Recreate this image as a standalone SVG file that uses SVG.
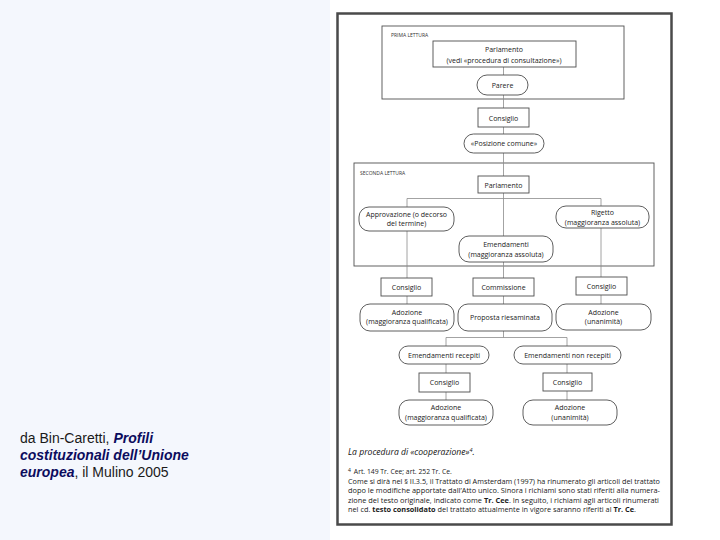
<svg xmlns="http://www.w3.org/2000/svg" width="720" height="540" viewBox="0 0 720 540">
<style>
.box{fill:#fff;stroke:#4d4d4d;stroke-width:0.9}
.frame{fill:none;stroke:#505050;stroke-width:0.9}
.con{stroke:#8c8c8c;stroke-width:0.8;fill:none}
.t{font-family:"Open Sans","DejaVu Sans",sans-serif;font-size:7px;fill:#222;text-anchor:middle}
.lab{font-family:"Open Sans","DejaVu Sans",sans-serif;font-size:5px;fill:#333}
.fn{font-family:"Open Sans","DejaVu Sans",sans-serif;font-size:6.8px;fill:#1a1a1a}
.src{font-family:"Liberation Sans",Arial,sans-serif;font-size:14px;fill:#1a1a1a}
.bi{font-weight:bold;font-style:italic;fill:#0c0c5e}
</style>
<rect x="0" y="0" width="720" height="540" fill="#fff"/>
<rect x="0" y="0" width="330" height="540" fill="#f4f7fd"/>

<g id="source">
<text class="src" x="20" y="443">da Bin-Caretti, <tspan class="bi">Profili</tspan></text>
<text class="src" x="20" y="460"><tspan class="bi">costituzionali dell’Unione</tspan></text>
<text class="src" x="20" y="477"><tspan class="bi">europea</tspan>, il Mulino 2005</text>
</g>

<rect x="337.5" y="13.5" width="334" height="511" fill="none" stroke="#4a4a4a" stroke-width="2.5"/>

<g id="groups">
<rect class="frame" x="382" y="26" width="242" height="73"/>
<text class="lab" x="391" y="37">PRIMA LETTURA</text>
<rect class="frame" x="354" y="163" width="300" height="103"/>
<text class="lab" x="360" y="175">SECONDA LETTURA</text>
</g>

<g id="connectors">
<line class="con" x1="503.5" y1="67" x2="503.5" y2="278"/>
<line class="con" x1="503.5" y1="296" x2="503.5" y2="337.5"/>
<line class="con" x1="407" y1="198.5" x2="601" y2="198.5"/>
<line class="con" x1="407" y1="198.5" x2="407" y2="278"/>
<line class="con" x1="601" y1="198.5" x2="601" y2="277"/>
<line class="con" x1="407" y1="296" x2="407" y2="304"/>
<line class="con" x1="601" y1="295" x2="601" y2="304"/>
<line class="con" x1="446" y1="337.5" x2="567" y2="337.5"/>
<line class="con" x1="446" y1="337.5" x2="446" y2="400"/>
<line class="con" x1="567" y1="337.5" x2="567" y2="400"/>
</g>

<g id="parlamento1"><rect class="box" x="433" y="41" width="143" height="26"/>
<text class="t" x="504" y="52">Parlamento</text><text class="t" x="504" y="62.5">(vedi «procedura di consultazione»)</text></g>
<g id="parere"><rect class="box" x="477" y="75" width="51" height="20" rx="10"/><text class="t" x="502.5" y="88">Parere</text></g>
<g id="consiglio1"><rect class="box" x="478" y="108" width="51" height="19"/><text class="t" x="503.5" y="120.5">Consiglio</text></g>
<g id="posizione"><rect class="box" x="464" y="134" width="80" height="19" rx="9.5"/><text class="t" x="504" y="146">«Posizione comune»</text></g>
<g id="parlamento2"><rect class="box" x="478" y="176" width="51" height="17"/><text class="t" x="503.5" y="187.5">Parlamento</text></g>
<g id="approvazione"><rect class="box" x="359" y="207" width="95" height="24" rx="10"/>
<text class="t" x="406.5" y="216.5">Approvazione (o decorso</text><text class="t" x="406.5" y="226">del termine)</text></g>
<g id="rigetto"><rect class="box" x="556" y="206" width="93" height="22" rx="10"/>
<text class="t" x="602.5" y="215">Rigetto</text><text class="t" x="602.5" y="224.5">(maggioranza assoluta)</text></g>
<g id="emendamenti"><rect class="box" x="459" y="236" width="94" height="26" rx="10"/>
<text class="t" x="506" y="246.5">Emendamenti</text><text class="t" x="506" y="256.5">(maggioranza assoluta)</text></g>
<g id="consiglio-l"><rect class="box" x="381" y="278" width="51" height="18"/><text class="t" x="406.5" y="290">Consiglio</text></g>
<g id="commissione"><rect class="box" x="473" y="278" width="61" height="18"/><text class="t" x="503.5" y="290">Commissione</text></g>
<g id="consiglio-r"><rect class="box" x="576" y="277" width="51" height="18"/><text class="t" x="601.5" y="289">Consiglio</text></g>
<g id="adozione-l"><rect class="box" x="360" y="304" width="94" height="27" rx="10"/>
<text class="t" x="407" y="314.5">Adozione</text><text class="t" x="407" y="324">(maggioranza qualificata)</text></g>
<g id="proposta"><rect class="box" x="458" y="304" width="94" height="27" rx="10"/><text class="t" x="505" y="320">Proposta riesaminata</text></g>
<g id="adozione-r"><rect class="box" x="556" y="304" width="95" height="26" rx="10"/>
<text class="t" x="603.5" y="314.5">Adozione</text><text class="t" x="603.5" y="324">(unanimità)</text></g>
<g id="em-recepiti"><rect class="box" x="399" y="346" width="90" height="18" rx="9"/><text class="t" x="444" y="358">Emendamenti recepiti</text></g>
<g id="em-non-recepiti"><rect class="box" x="514" y="346" width="107" height="18" rx="9"/><text class="t" x="567.5" y="358">Emendamenti non recepiti</text></g>
<g id="consiglio-bl"><rect class="box" x="419" y="373" width="51" height="19"/><text class="t" x="444.5" y="385">Consiglio</text></g>
<g id="consiglio-br"><rect class="box" x="543" y="373" width="49" height="18"/><text class="t" x="567.5" y="385">Consiglio</text></g>
<g id="adozione-bl"><rect class="box" x="399" y="400" width="94" height="25" rx="10"/>
<text class="t" x="446" y="410">Adozione</text><text class="t" x="446" y="419.5">(maggioranza qualificata)</text></g>
<g id="adozione-br"><rect class="box" x="523" y="400" width="94" height="25" rx="10"/>
<text class="t" x="570" y="410">Adozione</text><text class="t" x="570" y="419.5">(unanimità)</text></g>

<g id="caption">
<text x="348" y="455" font-family="'Open Sans','DejaVu Sans',sans-serif" font-size="8.6" font-style="italic" fill="#111">La procedura di «cooperazione»<tspan font-size="5.5" dy="-3.5">4</tspan><tspan dy="3.5">.</tspan></text>
<text class="fn" x="348" y="474"><tspan font-size="5" dy="-2">4</tspan><tspan dx="3" dy="2">Art. 149 Tr. Cee; art. 252 Tr. Ce.</tspan></text>
<text class="fn" x="348" y="483.5" textLength="312" lengthAdjust="spacingAndGlyphs">Come si dirà nel § II.3.5, il Trattato di Amsterdam (1997) ha rinumerato gli articoli del trattato</text>
<text class="fn" x="348" y="493" textLength="312" lengthAdjust="spacingAndGlyphs">dopo le modifiche apportate dall’Atto unico. Sinora i richiami sono stati riferiti alla numera-</text>
<text class="fn" x="348" y="502.5" textLength="311" lengthAdjust="spacingAndGlyphs">zione del testo originale, indicato come <tspan font-weight="bold">Tr. Cee</tspan>. In seguito, i richiami agli articoli rinumerati</text>
<text class="fn" x="348" y="512" textLength="288" lengthAdjust="spacingAndGlyphs">nel cd. <tspan font-weight="bold">testo consolidato</tspan> del trattato attualmente in vigore saranno riferiti al <tspan font-weight="bold">Tr. Ce</tspan>.</text>
</g>
</svg>
